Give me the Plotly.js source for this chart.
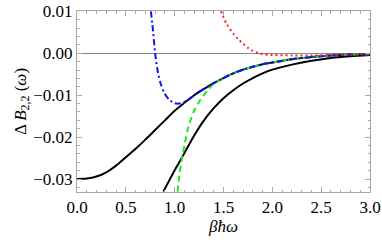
<!DOCTYPE html>
<html><head><meta charset="utf-8">
<script src="https://cdn.plot.ly/plotly-3.0.1.min.js"></script>
<style>html,body{margin:0;padding:0;background:#fff}#p{width:382px;height:243px}</style>
</head><body><div id="p"></div>
<script>
// Black solid curve 1
var x1 = [0,0.1,0.2,0.3,0.4,0.5,0.6,0.7,0.8,0.9,1.0,1.1,1.2,1.3,1.4,1.5,1.6,1.7,1.8,1.9,2.0,2.2,2.4,2.6,2.8,3.0];
var y1 = [-0.0300,-0.0299,-0.0294,-0.0284,-0.0268,-0.0248,-0.0228,-0.0206,-0.0183,-0.0160,-0.0137,-0.0118,-0.0100,-0.0085,-0.0071,-0.0059,-0.0048,-0.0039,-0.0032,-0.0026,-0.0022,-0.0014,-0.0009,-0.0005,-0.0003,-0.0002];
// Black solid curve 2
var x2 = [0.884,0.95,1.0,1.05,1.1,1.2,1.3,1.4,1.5,1.6,1.7,1.8,1.9,2.0,2.2,2.4,2.6,2.8,3.0];
var y2 = [-0.0330,-0.0301,-0.0279,-0.0259,-0.0238,-0.0196,-0.0160,-0.0131,-0.0107,-0.0088,-0.0072,-0.0059,-0.0048,-0.0039,-0.0027,-0.0018,-0.0011,-0.0007,-0.0004];
// Green dashed
var xg = [1.03,1.05,1.075,1.1,1.14,1.2,1.25,1.3,1.35,1.4,1.5,1.6,1.7,1.8,1.9,2.0,2.2,2.4,2.6,2.8,3.0];
var yg = [-0.0330,-0.0288,-0.0249,-0.0220,-0.0176,-0.0137,-0.0116,-0.0099,-0.0085,-0.0073,-0.0059,-0.0048,-0.0039,-0.0032,-0.0026,-0.0022,-0.0014,-0.0009,-0.0005,-0.0003,-0.0002];
// Blue dash-dot
var xb = [0.757,0.77,0.78,0.80,0.83,0.86,0.90,0.95,1.0,1.04,1.1,1.15,1.2,1.3,1.4,1.5,1.6,1.7,1.8,1.9,2.0,2.2,2.4,2.6,2.8,3.0];
var yb = [0.0100,0.0072,0.0050,0.0000,-0.0047,-0.0075,-0.0097,-0.0112,-0.0119,-0.0120,-0.0116,-0.0109,-0.0100,-0.0085,-0.0071,-0.0059,-0.0048,-0.0039,-0.0032,-0.0026,-0.0022,-0.0014,-0.0009,-0.0005,-0.0003,-0.0002];
// Red dotted
var xr = [1.474,1.5,1.53,1.6,1.65,1.7,1.75,1.8,1.85,1.9,2.0,2.2,2.4,2.6,2.8,3.0];
var yr = [0.0100,0.0086,0.0071,0.0047,0.0034,0.0023,0.0013,0.0006,0.0001,-0.0002,-0.0004,-0.0005,-0.0005,-0.0004,-0.0003,-0.0002];

var F = 'Liberation Serif';
var traces = [
  {x:x1,y:y1,mode:'lines',line:{color:'#000',width:2,shape:'spline',smoothing:0.8}},
  {x:x2,y:y2,mode:'lines',line:{color:'#000',width:2,shape:'spline',smoothing:0.8}},
  {x:xg,y:yg,mode:'lines',line:{color:'#22e622',width:2,dash:'6px,4px',shape:'spline',smoothing:0.8}},
  {x:xb,y:yb,mode:'lines',line:{color:'#1010ff',width:2,dash:'6px,3px,2px,3px',shape:'spline',smoothing:0.8}},
  {x:xr,y:yr,mode:'lines',line:{color:'#ff2020',width:2,dash:'2px,3px',shape:'spline',smoothing:0.8}}
];
var axBase = {
  showgrid:false, showline:true, linecolor:'#a8a8a8', linewidth:1, mirror:'ticks',
  ticks:'inside', ticklen:5, tickcolor:'#a8a8a8', tickwidth:1,
  tickfont:{family:F,size:17,color:'#000'}
};
var layout = {
  width:382, height:243, margin:{l:77,r:12,t:11,b:51},
  paper_bgcolor:'#fff', plot_bgcolor:'#fff', showlegend:false,
  font:{family:F,size:17,color:'#000'},
  xaxis: Object.assign({}, axBase, {range:[0,3], dtick:0.5, tick0:0, tickformat:'.1f', zeroline:false,
    minor:{dtick:0.1, ticks:'inside', ticklen:2.5, tickcolor:'#a8a8a8', showgrid:false},
    title:{text:'<i>βħω</i>', font:{family:F,size:17,color:'#000'}, standoff:2}}),
  yaxis: Object.assign({}, axBase, {range:[-0.0331,0.0101], dtick:0.01, tick0:0, tickformat:'.2f',
    zeroline:true, zerolinecolor:'#888', zerolinewidth:1,
    minor:{dtick:0.002, ticks:'inside', ticklen:2.5, tickcolor:'#a8a8a8', showgrid:false},
    title:{text:'Δ <i>B</i><sub>2,2</sub> (<i>ω</i>)', font:{family:F,size:17,color:'#000'}, standoff:2}})
};
Plotly.newPlot('p', traces, layout, {staticPlot:true});
</script></body></html>
